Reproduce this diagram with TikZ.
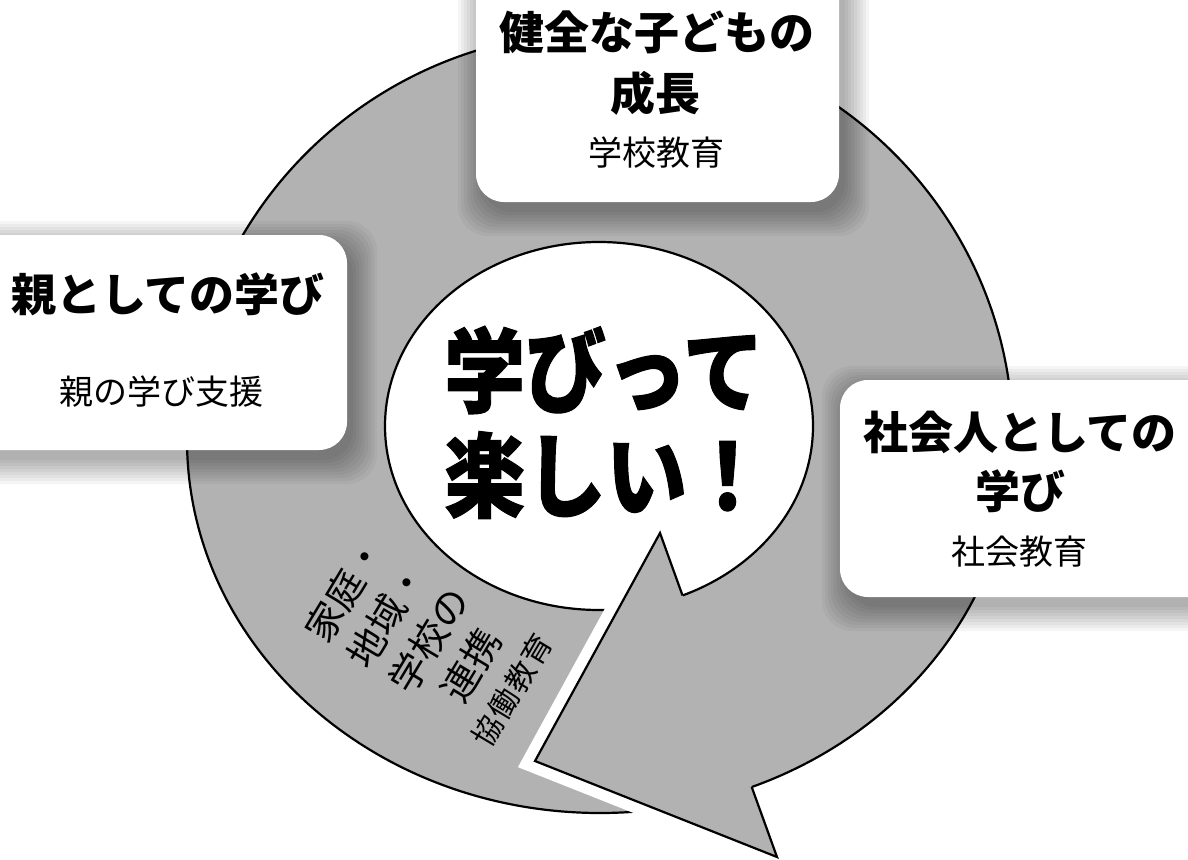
\documentclass[tikz,border=0pt]{standalone}
\usepackage{fontspec}
\newfontfamily\jp{Noto Sans CJK JP}
\newfontfamily\jpheavy{Noto Sans CJK JP}[BoldFeatures={FakeBold=1.2}]
\newfontfamily\jpls{Noto Sans CJK JP}[LetterSpace=6]
\definecolor{ringgray}{gray}{0.70}
\begin{document}
\begin{tikzpicture}[x=1pt,y=-1pt,
  hd/.style={font=\jp\bfseries\fontsize{45}{54}\selectfont, inner sep=0pt},
  sb/.style={font=\jp\fontsize{34}{40}\selectfont, inner sep=0pt},
  big/.style={font=\jpheavy\bfseries\fontsize{92}{100}\selectfont, inner sep=0pt, xscale=0.88, anchor=west},
  rt/.style={font=\jp\fontsize{38}{49}\selectfont, inner sep=0pt, rotate=59, align=center},
  outl/.style={line width=2.2pt, line join=round},
  card/.style={fill=white, rounded corners=28pt},
  shad/.style={fill=black, opacity=0.04, rounded corners=30pt}
]
\useasboundingbox (0,0) rectangle (1188,859);
\clip (0,0) rectangle (1188,859);

% ring band
\fill[ringgray, even odd rule]
  (187,440) arc[start angle=180,end angle=360,x radius=413,y radius=408]
            arc[start angle=0,end angle=180,x radius=413,y radius=373] -- cycle
  (599,426) ellipse[x radius=214,y radius=184];
\draw[outl]
  (187,440) arc[start angle=180,end angle=360,x radius=413,y radius=408]
            arc[start angle=0,end angle=180,x radius=413,y radius=373] -- cycle;
\draw[outl] (599,426) ellipse[x radius=214,y radius=184];

% arrow head
\coordinate (b1) at (660,533);
\coordinate (tp) at (535,761);
\coordinate (b2) at (777,857);
\coordinate (bi) at (682.5,595.4);
\coordinate (bo) at (751.7,787);
\draw[white, line width=24pt, line join=miter] (b1) -- (tp) -- (b2);
\fill[ringgray] (b1) -- (tp) -- (b2) -- cycle;
\draw[line width=2.2pt, line join=miter] (bi) -- (b1) -- (tp) -- (b2) -- (bo);

% shadows
\foreach \s in {0,3,...,24} {
  \fill[shad] (482-\s,-40) rectangle (845+\s,212+\s);
  \fill[shad] (-40,245-\s) rectangle (353+\s,460+\s);
  \fill[shad] (846-\s,390-\s) rectangle (1240,607+\s);
}

% cards
\fill[card] (476,-40) rectangle (839,202);
\fill[card] (-40,235) rectangle (347,450);
\fill[card] (840,380) rectangle (1240,597);

% card texts
\node[hd] (t1) at (657,32) {健全な子どもの};
\node[hd] (t2) at (655,93) {成長};
\node[sb] (t3) at (656,153) {学校教育};

\node[hd] (l1) at (168,294) {親としての学び};
\node[sb] (l2) at (161,392) {親の学び支援};

\node[hd] (r1) at (1020,432) {社会人としての};
\node[hd] (r2) at (1020,491) {学び};
\node[sb] (r3) at (1019,552) {社会教育};

% bubble text
\node[big] (c1) at (444,370) {学びって};
\node[big] (c2) at (444,475) {楽しい！};

% rotated text
\node[rt] (k) at (427,639) {家庭・\\地域・\\学校の\\連携\\[-4pt]{\jpls\fontsize{30}{36}\selectfont 協働教育}};
\end{tikzpicture}
\end{document}
